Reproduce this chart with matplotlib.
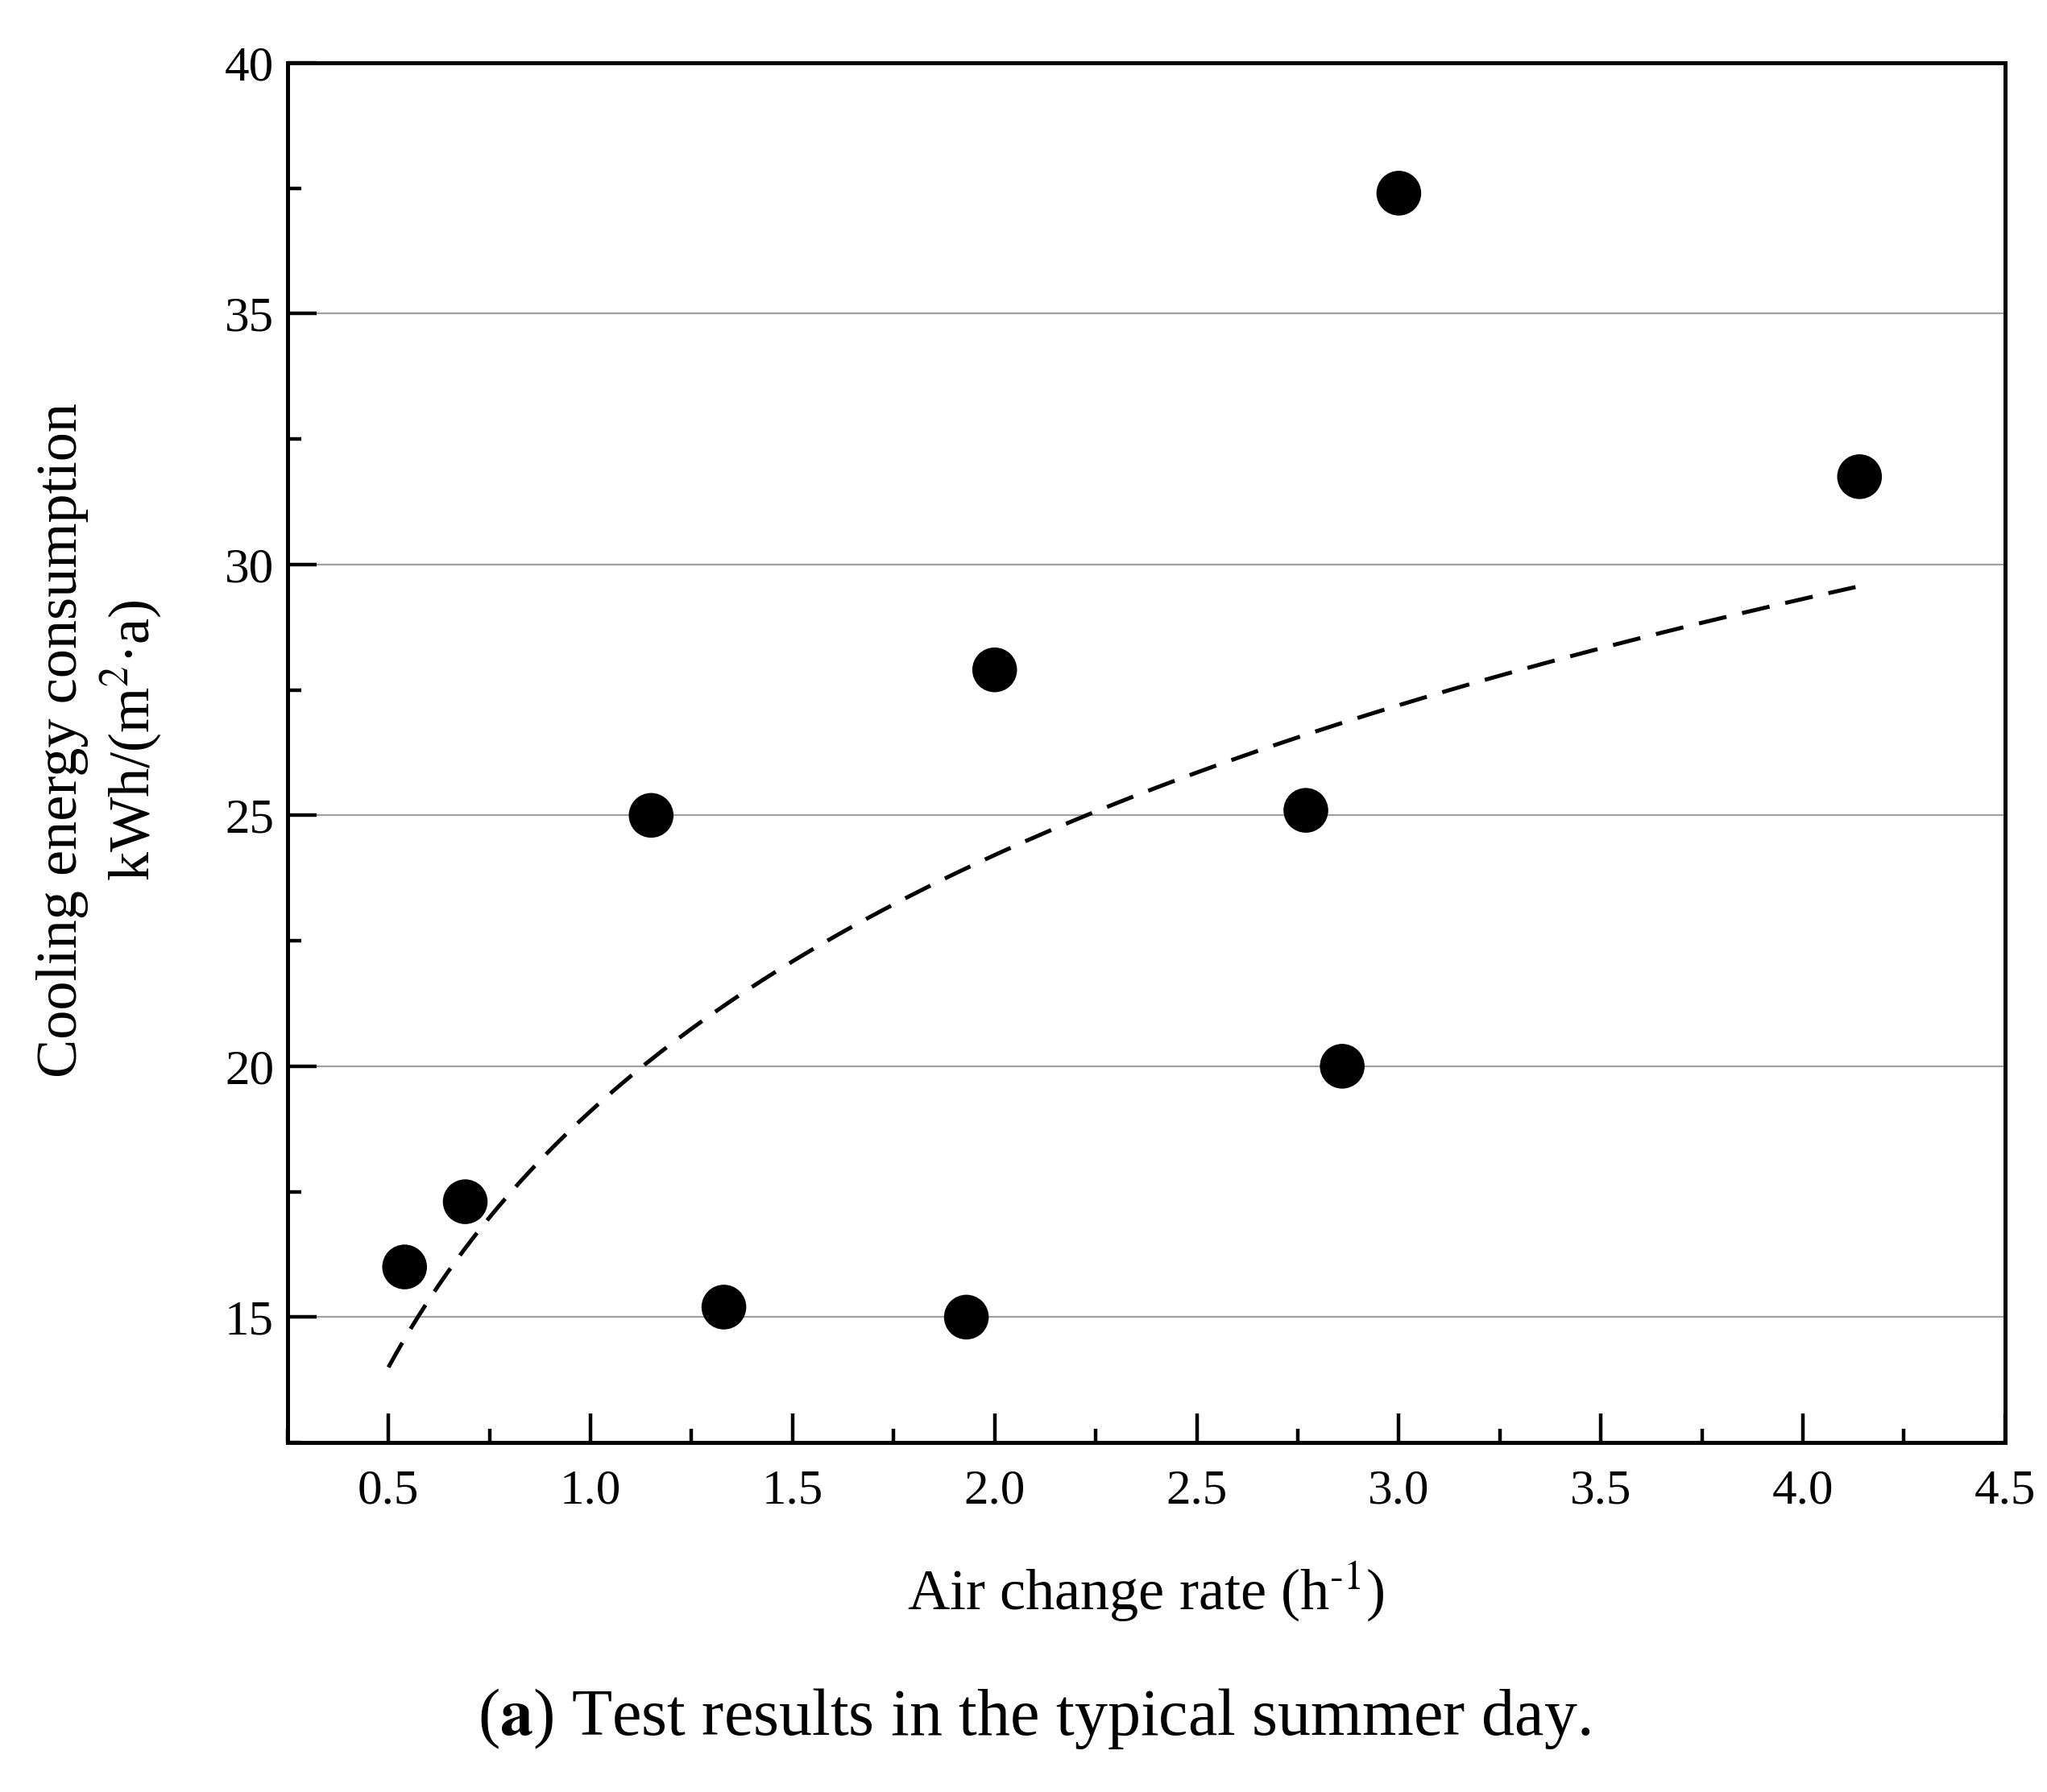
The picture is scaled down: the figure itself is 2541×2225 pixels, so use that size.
import matplotlib
matplotlib.use('Agg')
import matplotlib.pyplot as plt
import numpy as np
from matplotlib.ticker import MultipleLocator

air_change_rate = [0.54, 0.69, 1.15, 1.33, 1.93, 2.00, 2.77, 2.86, 3.00, 4.14]
cooling_energy = [16.0, 17.3, 25.0, 15.2, 15.0, 27.9, 25.1, 20.0, 37.4, 31.75]

# Range covered by the logarithmic trend line
fit_range = [0.5, 4.13]

x_ticks = [0.5, 1.0, 1.5, 2.0, 2.5, 3.0, 3.5, 4.0, 4.5]
y_ticks = [15, 20, 25, 30, 35, 40]

plt.rcParams['font.family'] = ['Liberation Serif', 'DejaVu Serif']
plt.rcParams['mathtext.fontset'] = 'stix'

fig = plt.figure(figsize=(12.705, 11.125), dpi=200)
ax = fig.add_axes([0.1404, 0.195, 0.8391, 0.770])

# Logarithmic fit y = a + b ln(x) of the measured data
b, a = np.polyfit(np.log(air_change_rate), cooling_energy, 1)
xs = np.linspace(fit_range[0], fit_range[1], 200)
ax.plot(xs, a + b * np.log(xs), color='black', linewidth=1.8,
        linestyle=(0, (7, 4)), zorder=2)

ax.scatter(air_change_rate, cooling_energy, s=400, color='black',
           edgecolors='none', zorder=3)

ax.set_xlim(0.25, 4.5)
ax.set_ylim(12.5, 40)
ax.set_xticks(x_ticks)
ax.set_yticks(y_ticks)
ax.xaxis.set_minor_locator(MultipleLocator(0.25))
ax.yaxis.set_minor_locator(MultipleLocator(2.5))
ax.set_xticklabels([f'{v:.1f}' for v in x_ticks])
ax.set_yticklabels([str(v) for v in y_ticks])

ax.tick_params(which='both', direction='in', top=False, right=False,
               width=1.6, labelsize=22, colors='black')
ax.tick_params(axis='x', which='major', length=13, pad=12)
ax.tick_params(axis='y', which='major', length=13, pad=6)
ax.tick_params(which='minor', length=6)

ax.grid(axis='y', which='major', color='#a0a0a0', linewidth=0.8)
ax.set_axisbelow(True)
for sp in ax.spines.values():
    sp.set_linewidth(1.8)

ax.set_xlabel(r'Air change rate (h$^{\text{-}1}$)', fontsize=26)
ax.xaxis.set_label_coords(0.5, -0.085)

fig.text(0.049, 0.587, 'Cooling energy consumption\nkWh/(m$^{2}$·a)',
         rotation=90, ha='center', va='center', fontsize=26, linespacing=1.2)

fig.text(0.505, 0.041, r'($\mathbf{a}$) Test results in the typical summer day.',
         ha='center', va='center', fontsize=29.5)

plt.savefig('out.png', dpi=200)
